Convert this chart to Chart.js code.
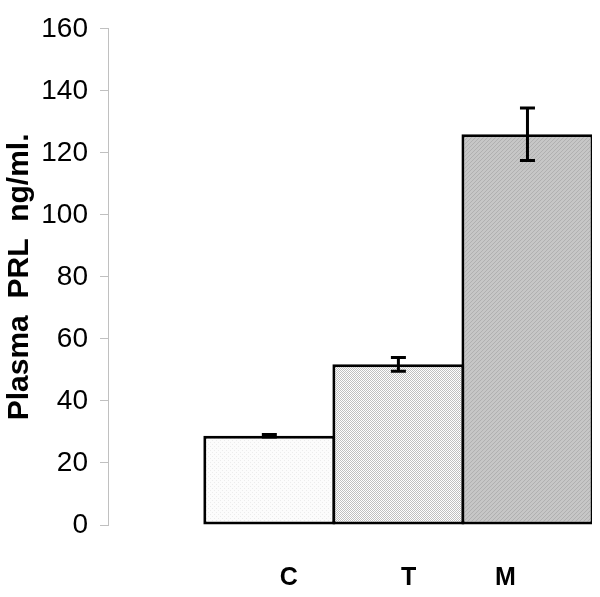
<!DOCTYPE html>
<html>
<head>
<meta charset="utf-8">
<script src="https://cdn.jsdelivr.net/npm/chart.js@4.4.0/dist/chart.umd.min.js"></script>
<style>
  html, body { margin: 0; padding: 0; background: #fff; }
  #wrap { width: 600px; height: 597px; }
</style>
</head>
<body>
<div id="wrap"><canvas id="graph" width="600" height="597"></canvas></div>
<script>
// data
const categories = ['C', 'T', 'M']
const prl = [28.8, 51.8, 126.0]
const prlErr = [0.4, 2.2, 8.5]
const yTicks = [0, 20, 40, 60, 80, 100, 120, 140, 160]

// small fill patterns like the old excel hatch fills
function makePattern(base, dots, cells) {
  const c = document.createElement('canvas')
  c.width = 4
  c.height = 4
  const g = c.getContext('2d')
  g.fillStyle = base
  g.fillRect(0, 0, 4, 4)
  g.fillStyle = dots
  cells.forEach(p => g.fillRect(p[0], p[1], 1, 1))
  return g.createPattern(c, 'repeat')
}
const ctx = document.getElementById('graph').getContext('2d')
const fills = [
  makePattern('#fcfcfc', '#ececec', [[0, 0], [2, 2]]),
  makePattern('#ffffff', '#c0c0c0', [[0, 0], [1, 1], [2, 0], [3, 1], [0, 2], [1, 3], [2, 2], [3, 3]]),
  makePattern('#c6c6c6', '#b0b0b0', [[0, 0], [2, 2], [1, 3], [3, 1]])
]

// where the category labels sit (they are not centred under the bars in the original)
const labelAt = [1.15, 2.08, 2.83]

const errorBars = {
  id: 'errorBars',
  afterDatasetsDraw(chart) {
    const meta = chart.getDatasetMeta(0)
    const y = chart.scales.y
    const c = chart.ctx
    c.save()
    c.strokeStyle = '#000'
    c.lineWidth = 3
    meta.data.forEach((bar, i) => {
      const top = y.getPixelForValue(prl[i] + prlErr[i])
      const bot = y.getPixelForValue(prl[i] - prlErr[i])
      c.beginPath()
      c.moveTo(bar.x, top)
      c.lineTo(bar.x, bot)
      c.moveTo(bar.x - 7.5, top)
      c.lineTo(bar.x + 7.5, top)
      c.moveTo(bar.x - 7.5, bot)
      c.lineTo(bar.x + 7.5, bot)
      c.stroke()
    })
    c.restore()
  }
}

const chart = new Chart(ctx, {
  type: 'bar',
  data: {
    datasets: [{
      label: 'Plasma PRL',
      data: prl.map((v, i) => ({ x: i + 1, y: v })),
      backgroundColor: fills,
      borderColor: '#000',
      borderWidth: 3,
      borderSkipped: false,
      inflateAmount: 0,
      // slightly over 1 so neighbouring bars share one border line
      barPercentage: 1.023,
      categoryPercentage: 1
    }]
  },
  options: {
    responsive: false,
    animation: false,
    layout: { padding: { top: 23, right: 8, bottom: 0, left: 0 } },
    plugins: {
      legend: { display: false },
      tooltip: { enabled: false }
    },
    scales: {
      x: {
        type: 'linear',
        display: false,
        offset: false,
        min: -0.25,
        max: 3.5,
        afterBuildTicks: scale => {
          scale.ticks = categories.map((c, i) => ({ value: i + 1 }))
        }
      },
      labels: {
        type: 'linear',
        position: 'bottom',
        offset: false,
        min: -0.25,
        max: 3.5,
        grid: { display: false, drawTicks: false },
        border: { display: false },
        afterBuildTicks: scale => {
          scale.ticks = labelAt.map(v => ({ value: v }))
        },
        afterFit: scale => { scale.height = 72 },
        ticks: {
          autoSkip: false,
          maxRotation: 0,
          padding: 38,
          color: '#000',
          font: { family: 'Liberation Sans', size: 25, weight: 'bold' },
          callback: (v, i) => categories[i]
        }
      },
      y: {
        min: 0,
        max: 160,
        afterBuildTicks: scale => {
          scale.ticks = yTicks.map(v => ({ value: v }))
        },
        afterFit: scale => { scale.width = 108 },
        grid: {
          drawOnChartArea: false,
          drawTicks: true,
          tickLength: 8,
          color: '#c0c0c0',
          lineWidth: 1
        },
        border: { color: '#c0c0c0', width: 1 },
        ticks: {
          padding: 12,
          color: '#000',
          font: { family: 'Liberation Sans', size: 28 }
        },
        title: {
          display: true,
          text: 'Plasma  PRL  ng/ml.',
          color: '#000',
          padding: { top: 2, bottom: 0 },
          font: { family: 'Liberation Sans', size: 30, weight: 'bold' }
        }
      }
    }
  },
  plugins: [errorBars]
})
</script>
</body>
</html>
